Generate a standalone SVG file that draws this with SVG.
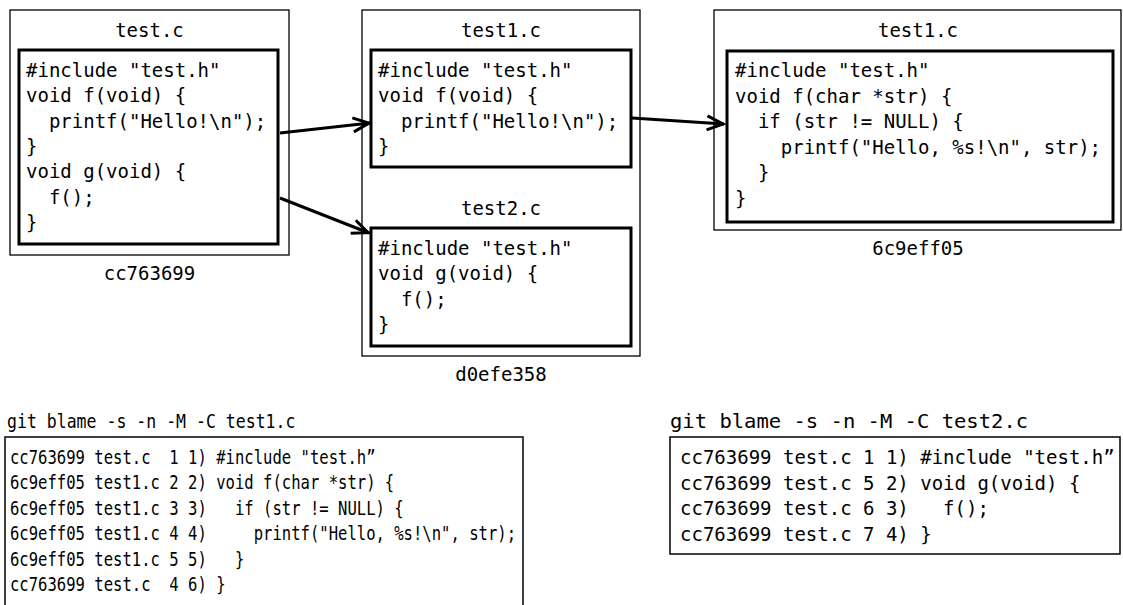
<svg xmlns="http://www.w3.org/2000/svg" width="1123" height="605" viewBox="0 0 1123 605">
<style>
.outer{fill:#fff;stroke:#000;stroke-width:1.3}
.inner{fill:#fff;stroke:#000;stroke-width:3}
.blame{fill:#fff;stroke:#000;stroke-width:1.5}
text{font-family:"DejaVu Sans Mono","Liberation Mono",monospace;font-size:19px;fill:#000;white-space:pre}
.c{text-anchor:middle}
.conn{stroke:#000;stroke-width:3;fill:none;marker-end:url(#arr)}
</style>
<defs>
<marker id="arr" markerUnits="userSpaceOnUse" markerWidth="24" markerHeight="20" refX="17" refY="8" orient="auto" overflow="visible">
<path d="M0,1 L16,8 L0,15" fill="none" stroke="#000" stroke-width="3"/>
</marker>
</defs>

<g id="commit-cc763699">
<rect class="outer" x="10" y="10" width="279" height="245"/>
<text class="c" x="149.5" y="37">test.c</text>
<rect class="inner" x="19" y="50" width="259" height="194"/>
<text x="26" y="77" xml:space="preserve">#include "test.h"</text>
<text x="26" y="102.3" xml:space="preserve">void f(void) {</text>
<text x="26" y="127.6" xml:space="preserve">  printf("Hello!\n");</text>
<text x="26" y="152.9" xml:space="preserve">}</text>
<text x="26" y="178.2" xml:space="preserve">void g(void) {</text>
<text x="26" y="203.5" xml:space="preserve">  f();</text>
<text x="26" y="228.8" xml:space="preserve">}</text>
<text class="c" x="149.5" y="280">cc763699</text>
</g>

<g id="commit-d0efe358">
<rect class="outer" x="362" y="10" width="278" height="346"/>
<text class="c" x="501" y="37">test1.c</text>
<rect class="inner" x="371" y="50" width="260" height="117"/>
<text x="378" y="77" xml:space="preserve">#include "test.h"</text>
<text x="378" y="102.3" xml:space="preserve">void f(void) {</text>
<text x="378" y="127.6" xml:space="preserve">  printf("Hello!\n");</text>
<text x="378" y="152.9" xml:space="preserve">}</text>
<text class="c" x="501" y="215">test2.c</text>
<rect class="inner" x="371" y="228" width="260" height="118"/>
<text x="378" y="255" xml:space="preserve">#include "test.h"</text>
<text x="378" y="280.3" xml:space="preserve">void g(void) {</text>
<text x="378" y="305.6" xml:space="preserve">  f();</text>
<text x="378" y="330.9" xml:space="preserve">}</text>
<text class="c" x="501" y="381">d0efe358</text>
</g>

<g id="commit-6c9eff05">
<rect class="outer" x="714" y="10" width="407" height="220"/>
<text class="c" x="918" y="37">test1.c</text>
<rect class="inner" x="727" y="51" width="386" height="171"/>
<text x="735" y="77" xml:space="preserve">#include "test.h"</text>
<text x="735" y="102.5" xml:space="preserve">void f(char *str) {</text>
<text x="735" y="128" xml:space="preserve">  if (str != NULL) {</text>
<text x="735" y="153.5" xml:space="preserve">    printf("Hello, %s!\n", str);</text>
<text x="735" y="179" xml:space="preserve">  }</text>
<text x="735" y="204.5" xml:space="preserve">}</text>
<text class="c" x="918" y="255">6c9eff05</text>
</g>

<g id="connectors">
<line class="conn" x1="280" y1="133" x2="370" y2="123"/>
<line class="conn" x1="280" y1="198" x2="369" y2="233"/>
<line class="conn" x1="632" y1="118" x2="724" y2="124"/>
</g>

<g id="blame-test1">
<text transform="translate(7,0) scale(0.87,1)" x="0" y="428" xml:space="preserve">git blame -s -n -M -C test1.c</text>
<rect class="blame" x="5" y="437" width="518" height="200"/>
<g transform="translate(10,0) scale(0.82,1)">
<text x="0" y="464" xml:space="preserve">cc763699 test.c  1 1) #include "test.h”</text>
<text x="0" y="489.5" xml:space="preserve">6c9eff05 test1.c 2 2) void f(char *str) {</text>
<text x="0" y="515" xml:space="preserve">6c9eff05 test1.c 3 3)   if (str != NULL) {</text>
<text x="0" y="540.5" xml:space="preserve">6c9eff05 test1.c 4 4)     printf("Hello, %s!\n", str);</text>
<text x="0" y="566" xml:space="preserve">6c9eff05 test1.c 5 5)   }</text>
<text x="0" y="591.5" xml:space="preserve">cc763699 test.c  4 6) }</text>
</g>
</g>

<g id="blame-test2">
<text transform="translate(670,0) scale(1.08,1)" x="0" y="428" xml:space="preserve">git blame -s -n -M -C test2.c</text>
<rect class="blame" x="670" y="437" width="450" height="117"/>
<g transform="translate(680,0) scale(1.0,1)">
<text x="0" y="464" xml:space="preserve">cc763699 test.c 1 1) #include "test.h”</text>
<text x="0" y="489.5" xml:space="preserve">cc763699 test.c 5 2) void g(void) {</text>
<text x="0" y="515" xml:space="preserve">cc763699 test.c 6 3)   f();</text>
<text x="0" y="540.5" xml:space="preserve">cc763699 test.c 7 4) }</text>
</g>
</g>
</svg>
